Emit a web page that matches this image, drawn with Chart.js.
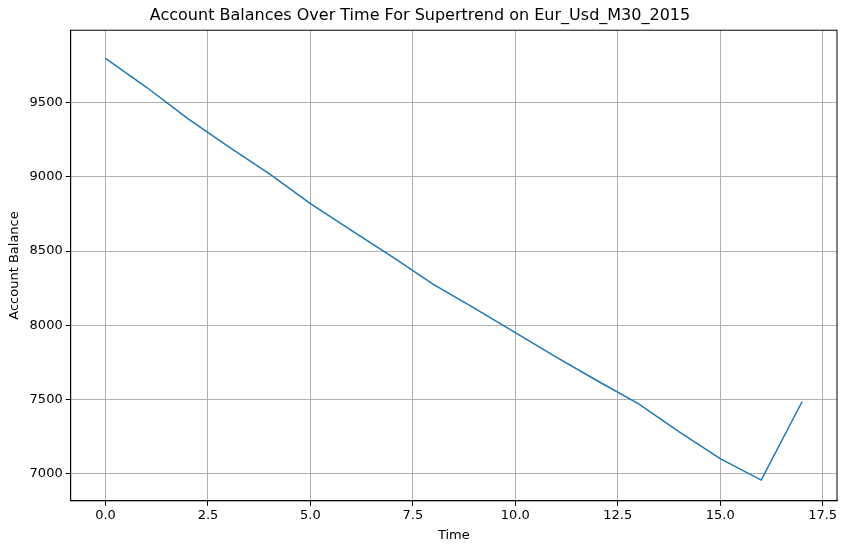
<!DOCTYPE html>
<html><head><script src="https://cdn.jsdelivr.net/npm/chart.js@4"></script>
<style>body{margin:0;background:#fff}#w{width:860px;height:545px}</style></head>
<body><div id="w"><canvas id="c"></canvas></div>
<script>
const times=[0,1,2,3,4,5,6,7,8,9,10,11,12,13,14,15,16,17];
const balances=[9800,9605,9395,9205,9020,8820,8640,8460,8275,8115,7950,7785,7625,7470,7280,7100,6955,7485];
const border={id:'border',afterDraw(ch){const a=ch.chartArea,x=ch.ctx;x.save();x.strokeStyle='#000';x.lineWidth=1;x.strokeRect(a.left,a.top,a.right-a.left,a.bottom-a.top);x.restore();}};
new Chart(document.getElementById('c'),{type:'line',
data:{datasets:[{data:times.map((t,i)=>({x:t,y:balances[i]})),borderColor:'#1f77b4',borderWidth:1.5,pointRadius:0,tension:0}]},
options:{responsive:true,maintainAspectRatio:false,animation:false,
layout:{padding:{left:3,right:23,top:0,bottom:2}},
plugins:{legend:{display:false},tooltip:{enabled:false},
title:{display:true,text:'Account Balances Over Time For Supertrend on Eur_Usd_M30_2015',color:'#000',font:{family:'DejaVu Sans',size:16,weight:'normal'},padding:{top:6,bottom:5}}},
scales:{x:{type:'linear',min:-0.85,max:17.85,afterBuildTicks(ax){ax.ticks=[0,2.5,5,7.5,10,12.5,15,17.5].map(v=>({value:v}));},
ticks:{color:'#000',font:{family:'DejaVu Sans',size:13},callback:v=>v.toFixed(1),maxRotation:0,padding:2},
grid:{color:'#b0b0b0',tickColor:'#000',tickLength:5},border:{color:'#000'},
title:{display:true,text:'Time',color:'#000',font:{family:'DejaVu Sans',size:13},padding:{top:2,bottom:0}}},
y:{min:6815,max:9990,afterBuildTicks(ax){ax.ticks=[7000,7500,8000,8500,9000,9500].map(v=>({value:v}));},
ticks:{color:'#000',font:{family:'DejaVu Sans',size:13},callback:v=>String(v),padding:3},
grid:{color:'#b0b0b0',tickColor:'#000',tickLength:5},border:{color:'#000'},
title:{display:true,text:'Account Balance',color:'#000',font:{family:'DejaVu Sans',size:13},padding:{bottom:4}}}}},
plugins:[border]});
</script></body></html>
